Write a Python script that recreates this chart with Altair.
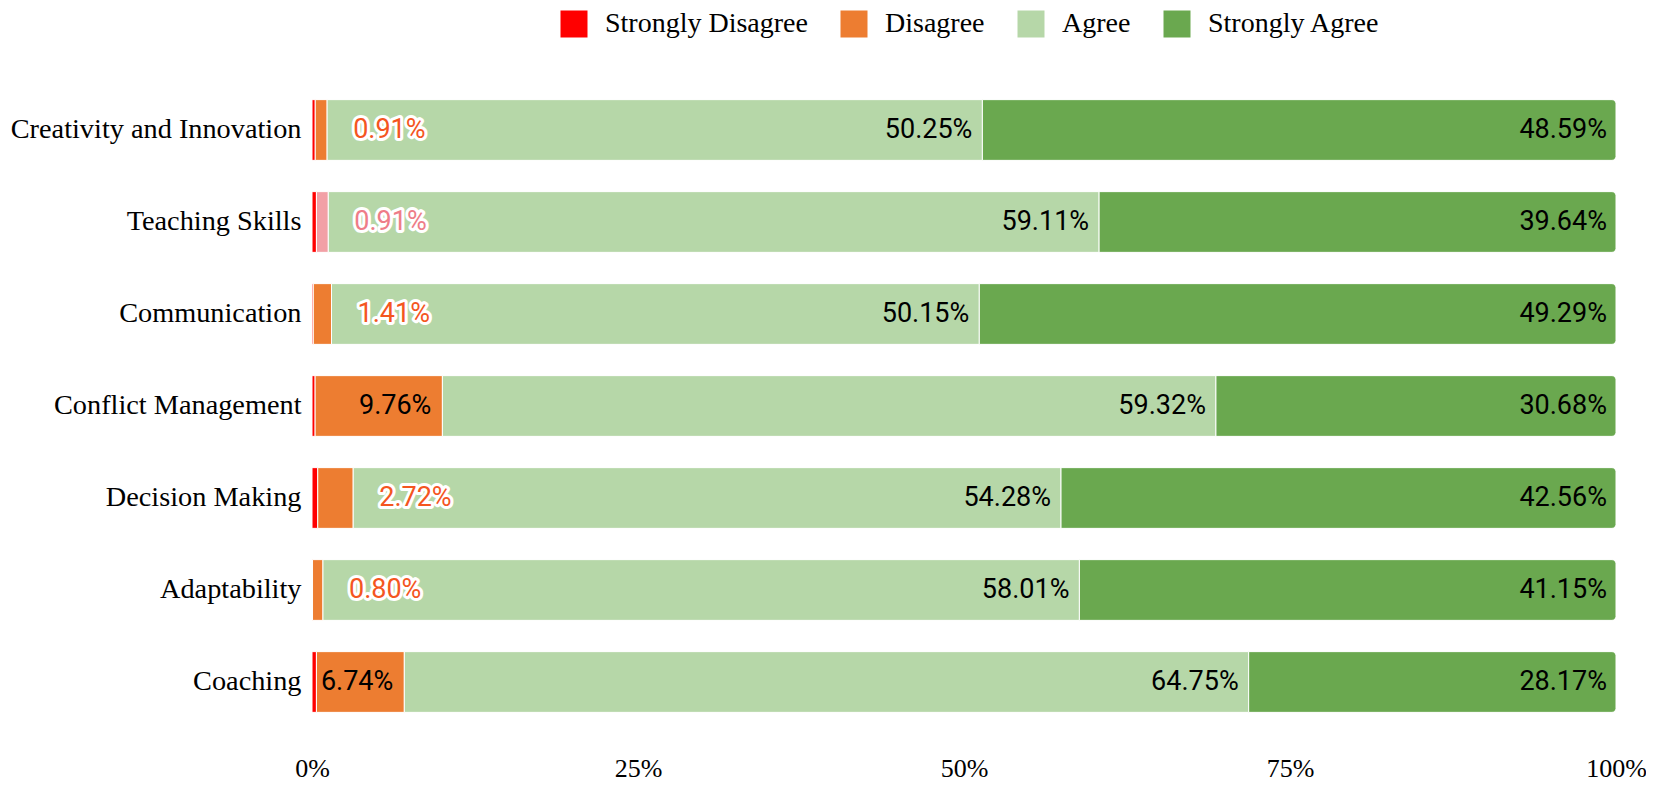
import altair as alt
import pandas as pd

categories = ["Creativity and Innovation", "Teaching Skills", "Communication",
              "Conflict Management", "Decision Making", "Adaptability", "Coaching"]
responses = ["Strongly Disagree", "Disagree", "Agree", "Strongly Agree"]
strongly_disagree = [0.25, 0.34, 0.10, 0.24, 0.44, 0.04, 0.34]
disagree = [0.91, 0.91, 1.41, 9.76, 2.72, 0.80, 6.74]
agree = [50.25, 59.11, 50.15, 59.32, 54.28, 58.01, 64.75]
strongly_agree = [48.59, 39.64, 49.29, 30.68, 42.56, 41.15, 28.17]
colors = ["#ff0000", "#ed7d31", "#b6d7a8", "#6aa84f"]

series = [strongly_disagree, disagree, agree, strongly_agree]
bar_rows, label_rows = [], []
for i, cat in enumerate(categories):
    vals = [s[i] for s in series]
    total = sum(vals)
    cum = 0.0
    ends = []
    for r, v in zip(responses, vals):
        start = cum / total
        cum += v
        end = cum / total
        ends.append(end)
        bar_rows.append({"category": cat, "response": r, "start": start, "end": end})
    label_rows.append({
        "category": cat,
        "d_end": ends[1], "a_end": ends[2], "sa_end": ends[3],
        "d_text": f"{disagree[i]:.2f}%", "a_text": f"{agree[i]:.2f}%",
        "sa_text": f"{strongly_agree[i]:.2f}%",
        "d_small": disagree[i] < 5,
    })
bars = pd.DataFrame(bar_rows)
labels = pd.DataFrame(label_rows)

serif = "Liberation Serif"
sans = "Roboto"
lab_size = 27

x_enc = alt.X("start:Q", scale=alt.Scale(domain=[0, 1], nice=False, zero=True),
              axis=alt.Axis(values=[0, 0.25, 0.5, 0.75, 1], format=".0%", grid=False,
                            domain=False, ticks=False, labelFont=serif, labelFontSize=26,
                            labelColor="#000", labelPadding=27, labelFlush=False,
                            title=None))
y_enc = alt.Y("category:N", sort=categories,
              scale=alt.Scale(paddingInner=0.34, paddingOuter=0.17),
              axis=alt.Axis(domain=False, ticks=False, labelFont=serif, labelFontSize=28.3,
                            labelColor="#000", labelPadding=11, title=None, labelLimit=400))
color_enc = alt.condition(
    "datum.category == 'Teaching Skills' && datum.response == 'Disagree'",
    alt.value("#f2a0a6"),
    alt.Color("response:N", sort=responses,
              scale=alt.Scale(domain=responses, range=colors),
              legend=alt.Legend(title=None, orient="none", legendX=248, legendY=-74,
                                direction="horizontal", symbolType="square",
                                symbolSize=729, symbolStrokeWidth=0, symbolOpacity=1,
                                labelFont=serif, labelFontSize=28, labelColor="#000",
                                labelOffset=17, columnPadding=32, labelLimit=400)))

base_bars = alt.Chart(bars)
bars_main = base_bars.transform_filter("datum.response != 'Strongly Agree'").mark_bar(
    stroke="white", strokeWidth=1).encode(x=x_enc, x2="end:Q", y=y_enc, color=color_enc)
bars_sa = base_bars.transform_filter("datum.response == 'Strongly Agree'").mark_bar(
    stroke="white", strokeWidth=1, cornerRadiusTopRight=4, cornerRadiusBottomRight=4).encode(
    x="start:Q", x2="end:Q", y=alt.Y("category:N", sort=categories), color=color_enc)

lab = alt.Chart(labels)
yl = alt.Y("category:N", sort=categories)
halo_color = alt.condition("datum.category == 'Teaching Skills'",
                           alt.value("#ee7d88"), alt.value("#f4561f"))
d_halo = lab.transform_filter("datum.d_small").mark_text(
    align="left", baseline="middle", dx=26, font=sans, fontSize=lab_size,
    stroke="white", strokeWidth=6, strokeJoin="round", fill="white").encode(
    x="d_end:Q", y=yl, text="d_text:N")
d_out = lab.transform_filter("datum.d_small").mark_text(
    align="left", baseline="middle", dx=26, font=sans, fontSize=lab_size).encode(
    x="d_end:Q", y=yl, text="d_text:N", color=halo_color)
d_in = lab.transform_filter("!datum.d_small").mark_text(
    align="right", baseline="middle", dx=-11, font=sans, fontSize=lab_size,
    color="#000").encode(x="d_end:Q", y=yl, text="d_text:N")
a_lab = lab.mark_text(align="right", baseline="middle", dx=-10, font=sans, fontSize=lab_size,
                      color="#000").encode(x="a_end:Q", y=yl, text="a_text:N")
sa_lab = lab.mark_text(align="right", baseline="middle", dx=-9, font=sans, fontSize=lab_size,
                       color="#000").encode(x="sa_end:Q", y=yl, text="sa_text:N")

chart = alt.layer(bars_main, bars_sa, d_halo, d_out, d_in, a_lab, sa_lab).properties(
    width=1304, height=644,
    background="white",
    padding={"left": 304, "top": 76, "right": 30, "bottom": 55},
    autosize=alt.AutoSizeParams(type="none"),
).configure_view(stroke="transparent", strokeWidth=0)

chart.save("out.html", embed_options={"renderer": "svg", "actions": False})
